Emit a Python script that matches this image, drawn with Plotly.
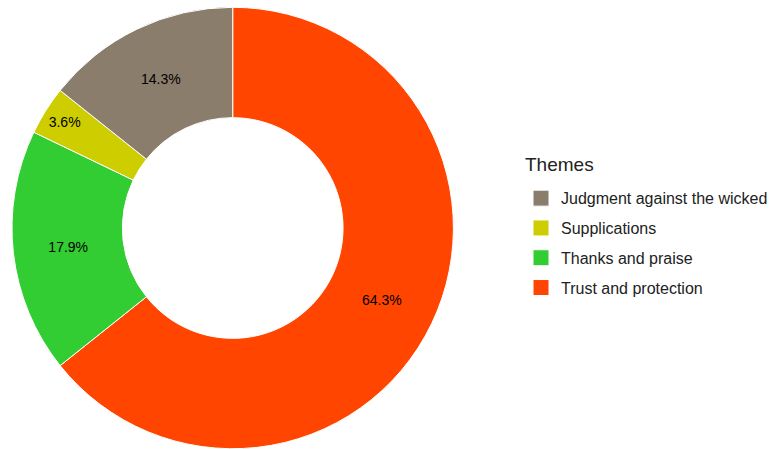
import plotly.graph_objects as go

themes = ["Judgment against the wicked", "Supplications", "Thanks and praise", "Trust and protection"]
counts = [4, 1, 5, 18]
colors = ["#8B7D6B", "#CDCD00", "#32CD32", "#FF4500"]

# slices run counterclockwise from 12 o'clock in legend order -> draw reversed, clockwise
fig = go.Figure()
fig.add_trace(go.Pie(
    labels=themes[::-1],
    values=counts[::-1],
    marker=dict(colors=colors[::-1], line=dict(color="white", width=1)),
    hole=0.5,
    sort=False,
    direction="clockwise",
    rotation=0,
    textinfo="percent",
    texttemplate="%{percent:.1%}",
    textposition="inside",
    insidetextorientation="horizontal",
    textfont=dict(family="Liberation Sans, Arial, sans-serif", size=14, color="black"),
    domain=dict(x=[12/773, 454/773], y=[0, 1]),
    hoverinfo="label+percent",
    showlegend=False,
))

# legend entries
for name, col in zip(themes, colors):
    fig.add_trace(go.Scatter(
        x=[None], y=[None], mode="markers", name=name, legendgroup=name,
        marker=dict(symbol="square", size=24, color=col, line=dict(color="white", width=1)),
        showlegend=True,
    ))

fig.update_layout(
    width=773, height=449,
    margin=dict(l=0, r=0, t=7, b=0),
    paper_bgcolor="white",
    plot_bgcolor="white",
    font=dict(family="Liberation Sans, Arial, sans-serif", color="black"),
    xaxis=dict(visible=False),
    yaxis=dict(visible=False),
    legend=dict(
        font=dict(size=16, color="#222"),
        x=522/773, y=1 - 177/449, xanchor="left", yanchor="top",
        tracegroupgap=6,
        itemwidth=30,
    ),
    annotations=[dict(
        text="Themes", x=524/773, y=1 - 160/449, xref="paper", yref="paper",
        xanchor="left", yanchor="middle", showarrow=False,
        font=dict(size=19, color="#222"),
    )],
    showlegend=True,
)

fig.write_html("out.html")
